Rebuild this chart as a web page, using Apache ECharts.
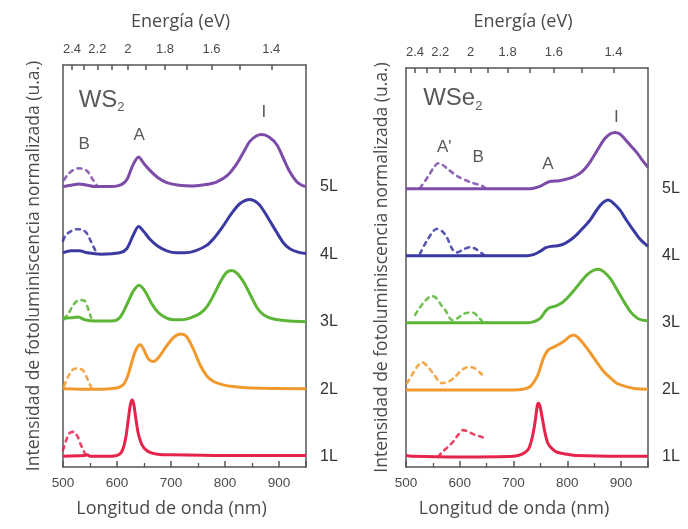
<!DOCTYPE html>
<html>
<head>
<meta charset="utf-8">
<script src="https://cdn.jsdelivr.net/npm/echarts@6/dist/echarts.min.js"></script>
<style>html,body{margin:0;padding:0;background:#fff;}#c{width:688px;height:529px;}</style>
</head>
<body>
<div id="c"></div>
<script>
// ---------- data (intensity above each layer's baseline, normalized units) ----------
const layerNames = ['1L', '2L', '3L', '4L', '5L'];
const layerColors = ['#e6234b', '#f2992e', '#5cb536', '#3b3aa3', '#7d4ba8'];
const energyTicks = [2.4, 2.3, 2.2, 2.1, 2.0, 1.9, 1.8, 1.7, 1.6, 1.5, 1.4];
const energyLabels = [2.4, 2.2, 2.0, 1.8, 1.6, 1.4];

// WS2 solid spectra [nm, intensity]
const ws2_1L = [[500,0.01],[540,0.02],[545,0.03],[550,0.01],[590,0.01],[605,0.04],[612,0.14],[617,0.32],[621,0.56],[625,0.78],[628,0.84],[631,0.78],[635,0.56],[639,0.36],[644,0.22],[650,0.13],[660,0.07],[675,0.04],[700,0.03],[800,0.02],[950,0.02]];
const ws2_2L = [[500,0.01],[560,0.0],[600,0.02],[612,0.07],[620,0.2],[628,0.42],[636,0.6],[643,0.66],[650,0.58],[658,0.45],[667,0.41],[677,0.47],[690,0.62],[705,0.77],[718,0.82],[728,0.79],[740,0.62],[754,0.36],[766,0.2],[778,0.12],[795,0.07],[815,0.04],[850,0.02],[950,0.01]];
const ws2_3L = [[500,0.05],[515,0.06],[528,0.07],[540,0.03],[560,0.01],[590,0.01],[605,0.06],[618,0.25],[630,0.45],[641,0.54],[652,0.45],[664,0.27],[676,0.14],[690,0.06],[705,0.03],[720,0.03],[740,0.07],[755,0.13],[768,0.24],[780,0.41],[792,0.6],[803,0.73],[812,0.76],[822,0.72],[835,0.58],[848,0.38],[860,0.2],[872,0.1],[890,0.04],[920,0.01],[950,0.0]];
const ws2_4L = [[500,0.02],[515,0.05],[530,0.05],[545,0.02],[570,0.0],[605,0.02],[618,0.08],[630,0.28],[640,0.41],[650,0.33],[661,0.22],[675,0.12],[692,0.05],[710,0.02],[725,0.02],[745,0.05],[766,0.13],[782,0.26],[796,0.41],[812,0.6],[828,0.75],[846,0.81],[860,0.76],[871,0.65],[884,0.48],[896,0.32],[908,0.17],[920,0.08],[935,0.03],[950,0.01]];
const ws2_5L = [[500,0.0],[515,0.02],[530,0.04],[545,0.02],[560,0.0],[590,0.0],[608,0.03],[618,0.1],[630,0.33],[640,0.44],[650,0.34],[661,0.24],[676,0.13],[692,0.06],[715,0.02],[741,0.01],[765,0.03],[785,0.07],[805,0.17],[822,0.34],[835,0.52],[846,0.67],[858,0.75],[868,0.77],[882,0.73],[896,0.62],[908,0.42],[920,0.22],[932,0.08],[942,0.02],[950,0.0]];

// WS2 dashed (B exciton) spectra
const ws2_1L_B = [[500,0.1],[506,0.25],[512,0.35],[520,0.37],[527,0.3],[533,0.18],[540,0.06],[545,0.0]];
const ws2_2L_B = [[502,0.05],[509,0.18],[518,0.29],[528,0.31],[537,0.28],[546,0.14],[552,0.03]];
const ws2_3L_B = [[502,0.04],[510,0.12],[520,0.26],[530,0.32],[540,0.31],[547,0.18],[552,0.06]];
const ws2_4L_B = [[500,0.2],[505,0.28],[515,0.34],[526,0.37],[536,0.36],[544,0.31],[551,0.2],[557,0.1],[563,0.01]];
const ws2_5L_B = [[502,0.1],[509,0.18],[518,0.24],[528,0.27],[538,0.26],[546,0.22],[554,0.12],[563,0.01]];

// WSe2 solid spectra
const wse2_1L = [[500,0.02],[510,0.01],[600,0.0],[700,0.01],[718,0.05],[728,0.12],[735,0.3],[740,0.52],[744,0.76],[746,0.8],[749,0.76],[753,0.6],[758,0.38],[764,0.2],[772,0.12],[781,0.07],[800,0.04],[818,0.02],[900,0.01],[950,0.01]];
const wse2_2L = [[500,0.0],[700,0.0],[717,0.01],[731,0.05],[744,0.2],[756,0.48],[765,0.6],[775,0.64],[791,0.71],[805,0.8],[812,0.82],[820,0.78],[830,0.69],[843,0.55],[856,0.4],[868,0.27],[880,0.18],[892,0.1],[905,0.06],[925,0.02],[950,0.01]];
const wse2_3L = [[500,0.0],[720,0.0],[735,0.01],[750,0.07],[760,0.18],[768,0.23],[778,0.25],[790,0.3],[800,0.37],[811,0.47],[824,0.6],[837,0.72],[848,0.78],[858,0.8],[868,0.76],[880,0.66],[892,0.5],[905,0.32],[918,0.16],[930,0.07],[940,0.04],[950,0.03]];
const wse2_4L = [[500,0.0],[725,0.0],[738,0.02],[750,0.07],[760,0.12],[770,0.14],[782,0.15],[792,0.17],[805,0.23],[818,0.32],[830,0.42],[843,0.54],[852,0.65],[861,0.75],[869,0.81],[876,0.83],[885,0.79],[898,0.68],[910,0.53],[923,0.38],[935,0.25],[950,0.14]];
const wse2_5L = [[500,0.0],[730,0.0],[743,0.02],[753,0.05],[762,0.09],[770,0.11],[785,0.12],[802,0.15],[815,0.19],[828,0.26],[840,0.37],[850,0.5],[860,0.63],[869,0.74],[880,0.82],[889,0.84],[897,0.82],[906,0.75],[918,0.64],[930,0.53],[940,0.42],[950,0.32]];

// WSe2 dashed (A' / B) spectra
const wse2_1L_B = [[560,0.0],[567,0.07],[578,0.15],[588,0.23],[597,0.33],[606,0.4],[615,0.38],[628,0.33],[640,0.3],[650,0.27]];
const wse2_2L_B = [[502,0.1],[513,0.25],[522,0.36],[530,0.41],[540,0.35],[550,0.25],[560,0.14],[567,0.1],[578,0.12],[588,0.17],[606,0.31],[617,0.34],[628,0.32],[640,0.24],[648,0.18]];
const wse2_3L_B = [[517,0.12],[525,0.22],[535,0.32],[548,0.4],[556,0.37],[565,0.27],[573,0.19],[586,0.04],[596,0.07],[604,0.12],[615,0.15],[625,0.15],[633,0.1],[641,0.03]];
const wse2_4L_B = [[526,0.03],[540,0.24],[557,0.4],[568,0.36],[577,0.26],[586,0.1],[595,0.05],[608,0.1],[620,0.13],[632,0.09],[645,0.01]];
const wse2_5L_B = [[526,0.01],[541,0.18],[552,0.32],[560,0.38],[569,0.35],[578,0.29],[597,0.18],[619,0.1],[642,0.04],[648,0.0]];

// annotation texts [text, nm, y]
const ws2Notes = [['B', 539, 4.62], ['A', 641, 4.76], ['I', 872, 5.1]];
const wse2Notes = [["A'", 571, 4.62], ['B', 634, 4.47], ['A', 764, 4.36], ['I', 891, 5.07]];
const ws2Title = ['WS{s|2}', 529, 5.28];
const wse2Title = ['WSe{s|2}', 532, 5.34];

const ws2Solid = [ws2_1L, ws2_2L, ws2_3L, ws2_4L, ws2_5L];
const ws2Dash = [ws2_1L_B, ws2_2L_B, ws2_3L_B, ws2_4L_B, ws2_5L_B];
const wse2Solid = [wse2_1L, wse2_2L, wse2_3L, wse2_4L, wse2_5L];
const wse2Dash = [wse2_1L_B, wse2_2L_B, wse2_3L_B, wse2_4L_B, wse2_5L_B];

// ---------- chart ----------
const NM_MIN = 500, NM_MAX = 950, Y_MIN = -0.15, Y_MAX = 5.8;
const axisColor = '#555';
const textColor = '#4a4a4a';
const titleFont = 'Open Sans';
const tickFont = 'Liberation Sans';

function xBottom(g) {
  return {
    gridIndex: g, type: 'value', position: 'bottom', min: NM_MIN, max: NM_MAX, interval: 100,
    axisLine: { show: true, onZero: false, lineStyle: { color: axisColor, width: 1.5 } },
    axisTick: { show: true, inside: true, length: 6, lineStyle: { color: axisColor, width: 1.5 } },
    minorTick: { show: true, splitNumber: 2, length: 4, lineStyle: { color: axisColor, width: 1.3 } },
    axisLabel: { color: textColor, fontFamily: tickFont, fontSize: 13.5, margin: 9,
      formatter: v => (v > 900 ? '' : String(v)) },
    splitLine: { show: false },
    name: 'Longitud de onda (nm)', nameLocation: 'middle', nameGap: 33,
    nameTextStyle: { color: textColor, fontFamily: titleFont, fontSize: 18, padding: [0, 26, 0, 0] }
  };
}
function xTop(g, gap) {
  return {
    gridIndex: g, type: 'value', position: 'top', min: NM_MIN, max: NM_MAX,
    axisLine: { show: true, onZero: false, lineStyle: { color: axisColor, width: 1.5 } },
    axisTick: { show: true, inside: true, length: 5, customValues: energyTicks.map(e => 1240 / e),
      lineStyle: { color: axisColor, width: 1.5 } },
    axisLabel: { show: true, customValues: energyLabels.map(e => 1240 / e), color: textColor,
      fontFamily: tickFont, fontSize: 13, margin: 9,
      formatter: v => String(Math.round(1240 / v * 10) / 10) },
    splitLine: { show: false },
    name: 'Energía (eV)', nameLocation: 'middle', nameGap: gap,
    nameTextStyle: { color: textColor, fontFamily: titleFont, fontSize: 18, padding: [0, 8, 0, 0] }
  };
}
function yLeft(g, gap) {
  return {
    gridIndex: g, type: 'value', position: 'left', min: Y_MIN, max: Y_MAX,
    axisLine: { show: true, onZero: false, lineStyle: { color: axisColor, width: 1.5 } },
    axisTick: { show: false }, axisLabel: { show: false }, splitLine: { show: false },
    name: 'Intensidad de fotoluminiscencia normalizada (u.a.)', nameLocation: 'middle', nameGap: gap,
    nameTextStyle: { color: textColor, fontFamily: titleFont, fontSize: 17.5 }
  };
}
function yRight(g) {
  return {
    gridIndex: g, type: 'value', position: 'right', min: Y_MIN, max: Y_MAX,
    axisLine: { show: true, onZero: false, lineStyle: { color: axisColor, width: 1.5 } },
    axisTick: { show: false }, splitLine: { show: false },
    axisLabel: { show: true, customValues: [0, 1, 2, 3, 4], margin: 14, color: '#333',
      fontFamily: tickFont, fontSize: 16, formatter: v => layerNames[Math.round(v)] }
  };
}

const series = [];
function addPanel(solid, dash, g) {
  for (let k = 0; k < layerNames.length; k++) {
    series.push({
      type: 'line', xAxisIndex: g * 2, yAxisIndex: g * 2, showSymbol: false, symbol: 'none',
      smooth: 0.3, silent: true, z: 3,
      lineStyle: { color: layerColors[k], width: 3 },
      data: solid[k].map(p => [p[0], p[1] + k])
    });
    series.push({
      type: 'line', xAxisIndex: g * 2, yAxisIndex: g * 2, showSymbol: false, symbol: 'none',
      smooth: 0.3, silent: true, z: 2,
      lineStyle: { color: layerColors[k], width: 2.6, type: [4, 5], cap: 'round', opacity: 0.85 },
      data: dash[k].map(p => [p[0], p[1] + k])
    });
  }
}
function addNotes(notes, title, g) {
  const data = notes.map(n => ({ value: [n[1], n[2]], label: { formatter: n[0] } }));
  data.push({ value: [title[1], title[2]], label: { formatter: title[0], fontSize: 24, align: 'left',
    rich: { s: { fontSize: 13, fontFamily: tickFont, color: '#2e2e2e', padding: [15, 0, 0, 0] } } } });
  series.push({
    type: 'scatter', xAxisIndex: g * 2, yAxisIndex: g * 2, symbolSize: 0, silent: true, z: 5,
    label: { show: true, position: 'inside', color: '#2e2e2e', fontFamily: tickFont, fontSize: 17 },
    data: data
  });
}
addPanel(ws2Solid, ws2Dash, 0);
addPanel(wse2Solid, wse2Dash, 1);
addNotes(ws2Notes, ws2Title, 0);
addNotes(wse2Notes, wse2Title, 1);

const chart = echarts.init(document.getElementById('c'), null, { renderer: 'canvas' });
chart.setOption({
  animation: false,
  backgroundColor: '#ffffff',
  grid: [
    { left: 63, top: 65, width: 243, height: 402 },
    { left: 406, top: 68, width: 242, height: 399 }
  ],
  xAxis: [xBottom(0), xTop(0, 34), xBottom(1), xTop(1, 37)],
  yAxis: [yLeft(0, 20), yRight(0), yLeft(1, 15), yRight(1)],
  series: series
});
</script>
</body>
</html>
